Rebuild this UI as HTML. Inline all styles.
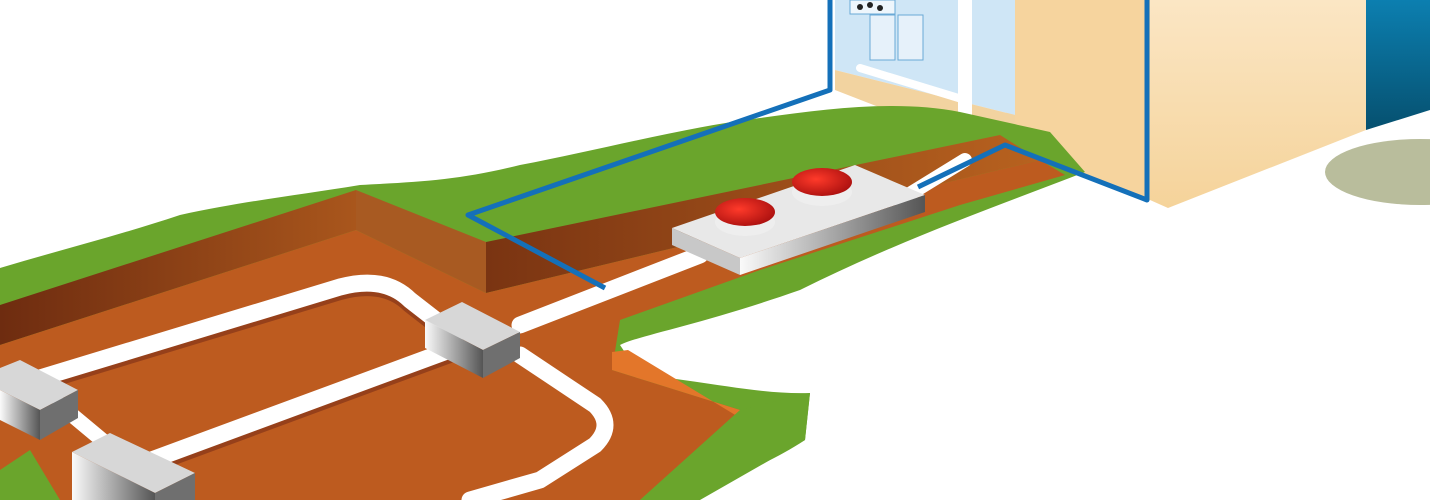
<!DOCTYPE html>
<html><head><meta charset="utf-8"><style>html,body{margin:0;padding:0;background:#fff}svg{display:block}</style></head>
<body>
<svg width="1430" height="500" viewBox="0 0 1430 500" xmlns="http://www.w3.org/2000/svg">
<defs>
<linearGradient id="box" x1="0" x2="1"><stop offset="0" stop-color="#fafafa"/><stop offset="1" stop-color="#555"/></linearGradient>
<linearGradient id="wall" x1="0" x2="1"><stop offset="0" stop-color="#7a3412"/><stop offset="1" stop-color="#b8621f"/></linearGradient>
<linearGradient id="wall2" x1="0" x2="1"><stop offset="0" stop-color="#6e2c10"/><stop offset="1" stop-color="#a9561c"/></linearGradient>
<linearGradient id="beige" x1="0" y1="0" x2="0" y2="1"><stop offset="0" stop-color="#fbe6c4"/><stop offset="1" stop-color="#f5d39a"/></linearGradient>
<linearGradient id="dblue" x1="0" y1="0" x2="0" y2="1"><stop offset="0" stop-color="#0c7fb0"/><stop offset="1" stop-color="#06506f"/></linearGradient>
<radialGradient id="red" cx="0.4" cy="0.4" r="0.7"><stop offset="0" stop-color="#ff3a2a"/><stop offset="1" stop-color="#a50d0d"/></radialGradient>
</defs>
<ellipse cx="1420" cy="172" rx="95" ry="33" fill="#b9bd9c"/>
<polygon points="1010,0 1150,0 1150,200 1005,145" fill="#f6d49e"/>
<polygon points="1150,0 1366,0 1366,130 1168,208 1150,200" fill="url(#beige)"/>
<polygon points="1366,0 1430,0 1430,110 1366,130" fill="url(#dblue)"/>
<polygon points="835,0 1015,0 1015,115 835,70" fill="#cfe6f6"/>
<polygon points="835,70 1015,115 1015,160 835,90" fill="#f2d3a0"/>
<rect x="850" y="0" width="45" height="14" fill="#eef6fc" stroke="#6aa9d6"/>
<circle cx="860" cy="7" r="3" fill="#222"/><circle cx="870" cy="5" r="3" fill="#222"/><circle cx="880" cy="8" r="3" fill="#222"/>
<rect x="870" y="15" width="25" height="45" fill="#e6f1fa" stroke="#6aa9d6"/>
<rect x="898" y="15" width="25" height="45" fill="#e6f1fa" stroke="#6aa9d6"/>
<line x1="860" y1="68" x2="965" y2="100" stroke="#fff" stroke-width="8" stroke-linecap="round"/>
<line x1="965" y1="0" x2="965" y2="160" stroke="#fff" stroke-width="14"/>
<!-- grass -->
<path d="M0,268 C60,250 120,235 180,215 C250,200 300,195 360,185 C420,182 460,180 520,165 C600,150 680,128 760,118 C830,108 900,100 960,112 L1050,132 L1085,172 C1000,205 900,240 800,290 C700,325 640,335 620,345 L640,375 C700,380 760,395 810,393 L805,440 C760,470 700,490 640,500 L0,500 Z" fill="#6aa52c"/>
<!-- soil -->
<polygon points="0,305 356,190 356,230 0,345" fill="url(#wall2)"/>
<polygon points="356,190 486,242 486,293 356,230" fill="#a85a22"/>
<polygon points="486,242 1000,135 1040,160 486,293" fill="url(#wall)"/>
<polygon points="0,345 356,230 486,293 1040,160 1065,175 960,205 760,270 620,320 612,370 740,410 640,500 0,500" fill="#bd5b1f"/>
<polygon points="612,352 628,350 760,430 740,410 612,370" fill="#e3762a"/>
<polygon points="0,470 30,450 60,500 0,500" fill="#6aa52c"/>
<polygon points="740,410 810,393 805,440 700,500 640,500" fill="#6aa52c"/>
<!-- pipes -->
<g fill="none" stroke-linecap="round" stroke-linejoin="round">
<path d="M40,382 L340,291 Q385,279 410,304 L455,339" stroke="#96401a" stroke-width="18"/>
<path d="M130,472 L455,352" stroke="#96401a" stroke-width="18"/>
<path d="M40,378 L340,287 Q385,275 410,300 L455,335" stroke="#fff" stroke-width="17"/>
<path d="M130,468 L455,348" stroke="#fff" stroke-width="17"/>
<path d="M520,355 L595,405 Q615,425 595,445 L540,480 L470,500" stroke="#fff" stroke-width="17"/>
<path d="M60,405 L120,455" stroke="#fff" stroke-width="15"/>
<path d="M520,325 L700,255" stroke="#fff" stroke-width="17"/>
<path d="M900,200 L965,160" stroke="#fff" stroke-width="14"/>
</g>
<!-- boxes -->
<polygon points="425,320 462,302 520,332 483,350" fill="#d7d7d7"/>
<polygon points="425,320 483,350 483,378 425,348" fill="url(#box)"/>
<polygon points="483,350 520,332 520,358 483,378" fill="#6f6f6f"/>
<polygon points="0,368 20,360 78,390 40,410 0,390" fill="#d7d7d7"/>
<polygon points="0,390 40,410 40,440 0,420" fill="url(#box)"/>
<polygon points="40,410 78,390 78,418 40,440" fill="#6f6f6f"/>
<polygon points="72,452 110,433 195,473 155,493" fill="#d7d7d7"/>
<polygon points="72,452 155,493 155,500 72,500" fill="url(#box)"/>
<polygon points="155,493 195,473 195,500 155,500" fill="#6f6f6f"/>
<!-- tank -->
<polygon points="672,228 855,165 925,195 740,258" fill="#e8e8e8"/>
<polygon points="672,228 740,258 740,275 672,245" fill="#c8c8c8"/>
<polygon points="740,258 925,195 925,212 740,275" fill="url(#box)"/>
<ellipse cx="745" cy="222" rx="30" ry="14" fill="#eee"/>
<ellipse cx="745" cy="212" rx="30" ry="14" fill="url(#red)"/>
<ellipse cx="822" cy="192" rx="30" ry="14" fill="#eee"/>
<ellipse cx="822" cy="182" rx="30" ry="14" fill="url(#red)"/>
<polyline points="830,0 830,90 468,215 605,288" fill="none" stroke="#1470b9" stroke-width="5" stroke-linejoin="round"/>
<polyline points="918,187 1005,145 1147,200 1147,0" fill="none" stroke="#1470b9" stroke-width="5" stroke-linejoin="round"/>
</svg>
</body></html>
